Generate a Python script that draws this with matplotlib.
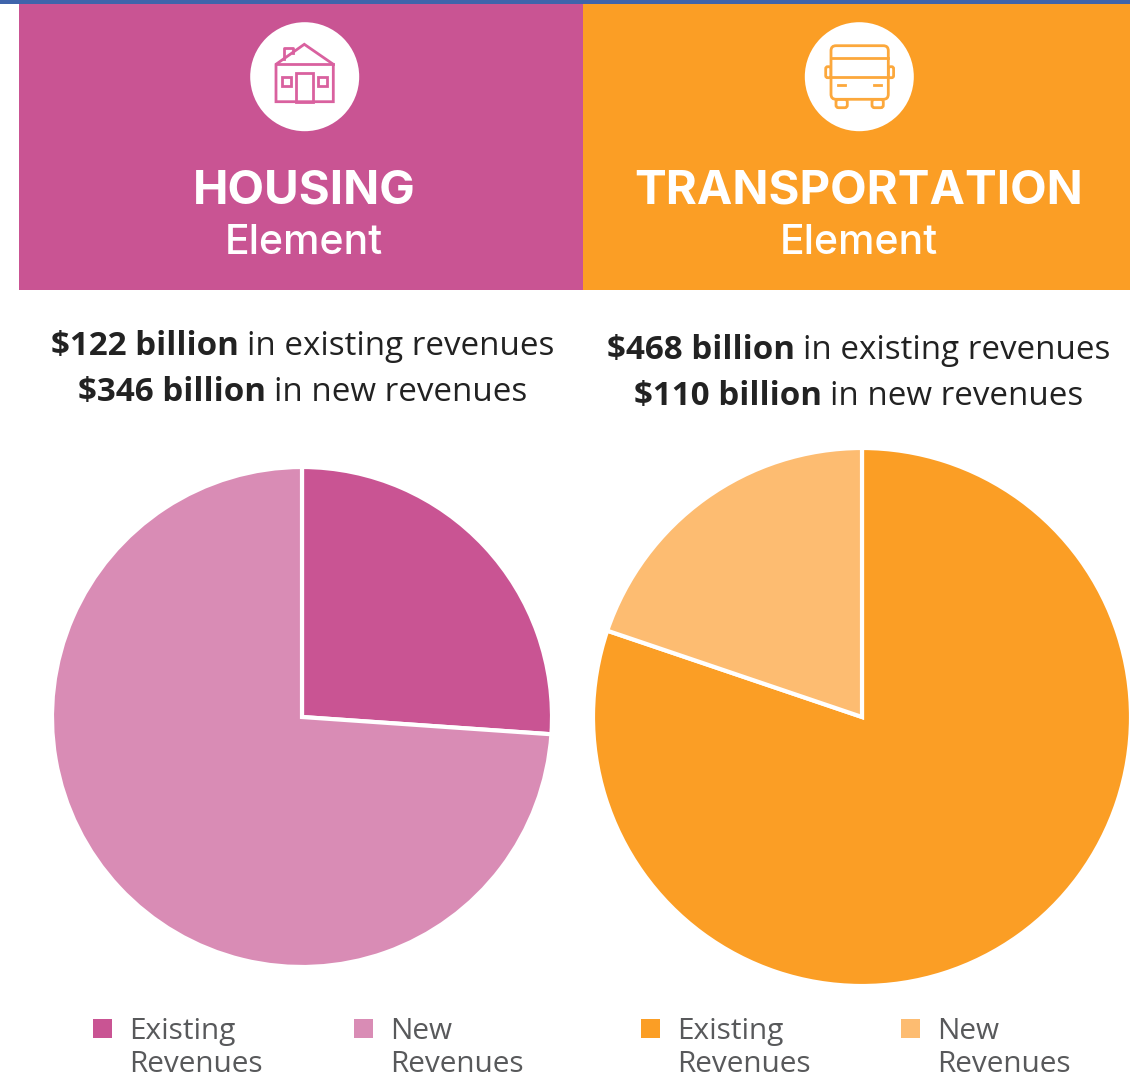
import matplotlib
matplotlib.use('Agg')
import matplotlib.pyplot as plt
from matplotlib.patches import Circle, FancyBboxPatch, Polygon, Rectangle

W, H = 1130, 1077

elements = ['HOUSING', 'TRANSPORTATION']
legend_labels = ['Existing\nRevenues', 'New\nRevenues']
housing_shares = [26.1, 73.9]
transport_shares = [80.2, 19.8]
housing_lines = [('$122 billion', ' in existing revenues'), ('$346 billion', ' in new revenues')]
transport_lines = [('$468 billion', ' in existing revenues'), ('$110 billion', ' in new revenues')]

PINK, PINK_LT, PINK_ICON = '#c95493', '#d98cb5', '#d9619f'
ORANGE, ORANGE_LT, ORANGE_ICON = '#fb9e25', '#fdbc71', '#fca83c'
BODY_FONT = 'Open Sans'
HEAD_FONT = 'Inter'

fig = plt.figure(figsize=(W / 100, H / 100), dpi=100, facecolor='white')
# overlay in image pixels, y pointing down
ax = fig.add_axes([0, 0, 1, 1])
ax.set_xlim(0, W)
ax.set_ylim(H, 0)
ax.axis('off')


def px(size):
    return size * 0.72


def draw_pie(cx, cy, r, shares, colors):
    a = fig.add_axes([(cx - r) / W, 1 - (cy + r) / H, 2 * r / W, 2 * r / H])
    a.pie(shares, colors=colors, startangle=90, counterclock=False, radius=1,
          wedgeprops=dict(edgecolor='white', linewidth=3))
    a.set_xlim(-1, 1)
    a.set_ylim(-1, 1)
    a.patch.set_alpha(0)


def mixed_line(cx, y, bold, plain, size=33.2):
    # bold lead + regular tail, centred together on cx
    r = fig.canvas.get_renderer()
    kw = dict(fontsize=px(size), family=BODY_FONT, color='#222222', va='baseline')
    t1 = ax.text(0, y, bold, fontweight='bold', **kw)
    t2 = ax.text(0, y, plain.strip(), **kw)
    w1 = t1.get_window_extent(r).width
    w2 = t2.get_window_extent(r).width
    gap = size * 0.24
    x0 = cx - (w1 + gap + w2) / 2
    t1.set_x(x0)
    t2.set_x(x0 + w1 + gap)


def draw_legend(x_list, colors):
    for x, c, lab in zip(x_list, colors, legend_labels):
        ax.add_patch(Rectangle((x, 1019), 19, 19, fc=c, ec='none'))
        top, bottom = lab.split('\n')
        for y, s in ((1039, top), (1072, bottom)):
            ax.text(x + 36, y, s, fontsize=px(29.7), family=BODY_FONT, color='#58595b', va='baseline')


def draw_house(c):
    kw = dict(fc='none', ec=c, lw=2, joinstyle='miter')
    ax.add_patch(Circle((304.7, 76.7), 54.5, fc='white', ec='none'))
    ax.add_patch(Polygon([(276, 64.3), (304.3, 44.3), (333.3, 64.3), (333.3, 101.7), (276, 101.7)], **kw))
    ax.plot([276, 333.3], [64.3, 64.3], color=c, lw=2)
    ax.plot([284, 284, 292.7, 292.7], [58.5, 48.3, 48.3, 52.5], color=c, lw=2)
    ax.add_patch(Rectangle((296, 72.7), 16.7, 29, **kw))
    ax.add_patch(Rectangle((282.3, 76.7), 8.4, 9, **kw))
    ax.add_patch(Rectangle((318.3, 76.7), 8.4, 9, **kw))


def draw_bus(c):
    kw = dict(fc='none', ec=c, lw=2)
    ax.add_patch(Circle((859.3, 76.7), 54.5, fc='white', ec='none'))
    for x, w in ((825.7, 5.3), (888.3, 5.3)):
        ax.add_patch(FancyBboxPatch((x, 66.7), w, 11, boxstyle='round,pad=0,rounding_size=2', **kw))
    for x in (836, 872):
        ax.add_patch(FancyBboxPatch((x, 99.3), 11.3, 8.4, boxstyle='round,pad=0,rounding_size=2.5', **kw))
    ax.add_patch(FancyBboxPatch((831, 45.7), 57.3, 53.6, boxstyle='round,pad=0,rounding_size=5',
                                fc='white', ec=c, lw=2))
    ax.plot([831, 888.3], [58.3, 58.3], color=c, lw=2)
    ax.plot([831, 888.3], [76.7, 76.7], color=c, lw=2)
    ax.plot([837.7, 845], [85.3, 85.3], color=c, lw=2)
    ax.plot([874, 881.3], [85.3, 85.3], color=c, lw=2)


# ---- header bands ----
ax.add_patch(Rectangle((0, 0), W, 4, fc='#3f64ab', ec='none'))
ax.add_patch(Rectangle((19, 4), 564, 286, fc=PINK, ec='none'))
ax.add_patch(Rectangle((583, 4), W - 583, 286, fc=ORANGE, ec='none'))
draw_house(PINK_ICON)
draw_bus(ORANGE_ICON)

for cx, name in zip((304, 859), elements):
    ax.text(cx, 204, name, fontsize=px(47.5), family=HEAD_FONT, fontweight='bold',
            color='white', ha='center', va='baseline')
    ax.text(cx, 254, 'Element', fontsize=px(41), family=HEAD_FONT, fontweight='medium',
            color='white', ha='center', va='baseline')

# ---- revenue lines ----
fig.canvas.draw()
for y, (b, p) in zip((355, 401), housing_lines):
    mixed_line(303, y, b, p)
for y, (b, p) in zip((359, 405), transport_lines):
    mixed_line(859, y, b, p)

# ---- pies ----
draw_pie(302, 717, 250, housing_shares, [PINK, PINK_LT])
draw_pie(862, 717, 269, transport_shares, [ORANGE, ORANGE_LT])

draw_legend((93, 354), [PINK, PINK_LT])
draw_legend((641, 901), [ORANGE, ORANGE_LT])

fig.savefig('out.png', dpi=100, facecolor='white')
